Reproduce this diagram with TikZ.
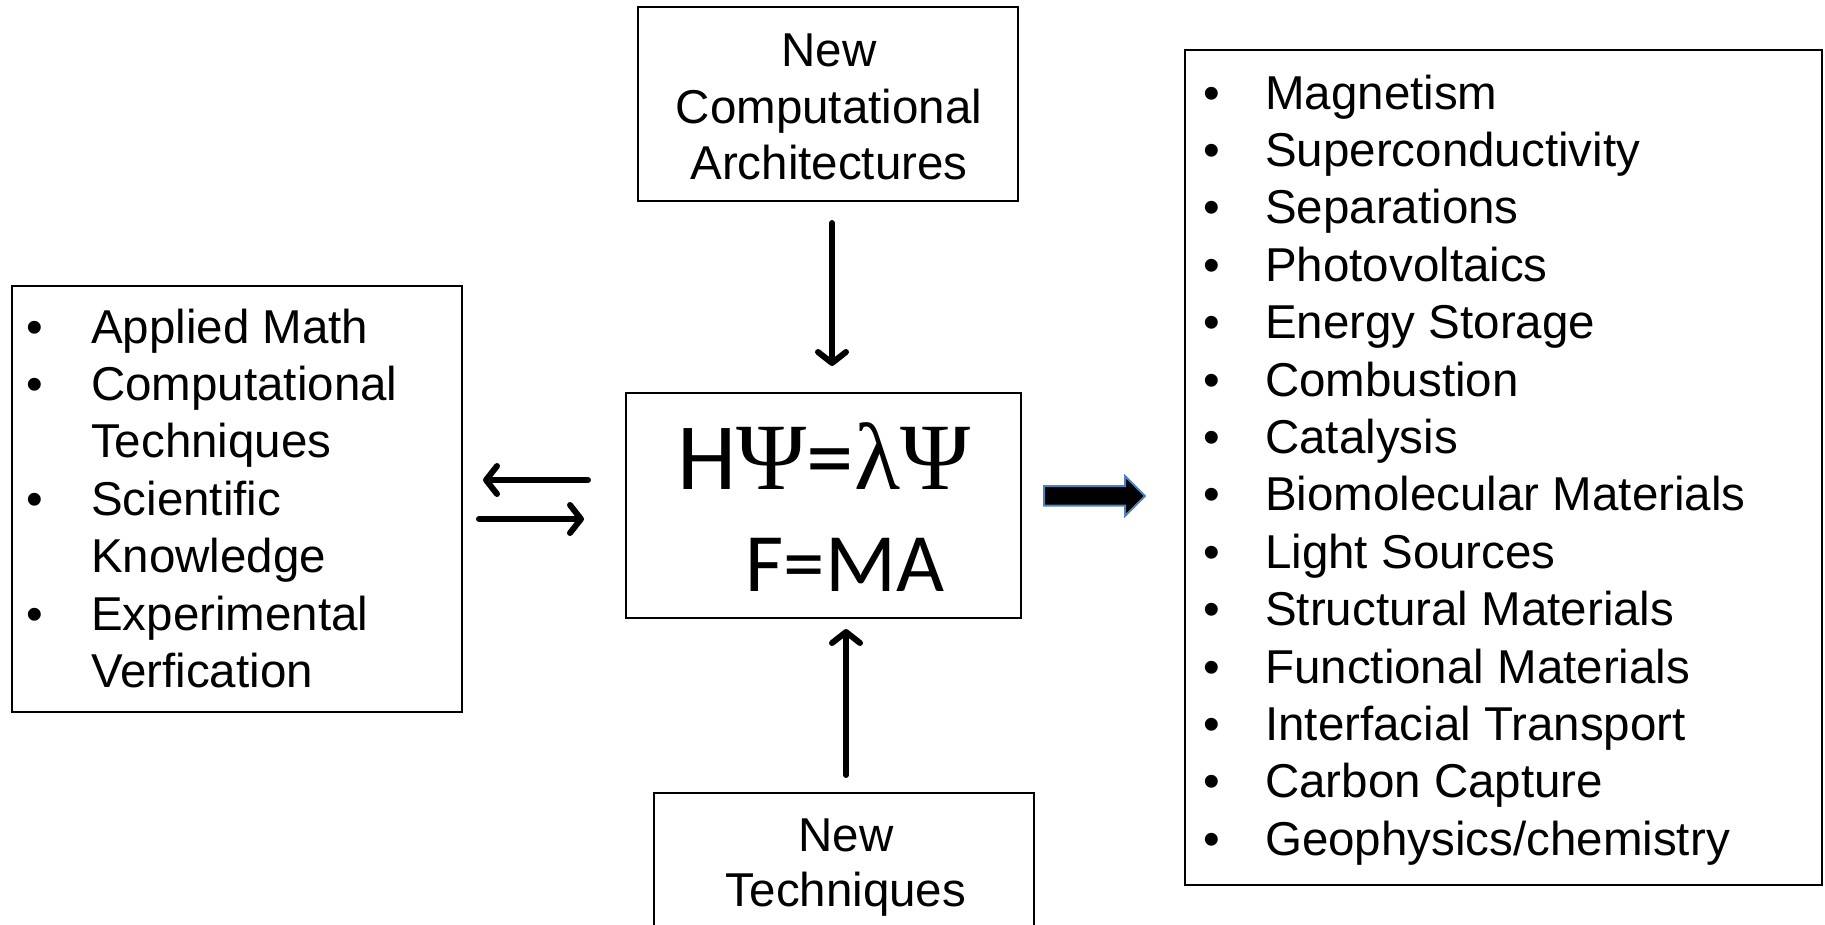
\documentclass[tikz,border=0pt]{standalone}
\usepackage{fontspec}
\setmainfont{Liberation Sans}
\newfontfamily\calib{Carlito}
\newfontfamily\serifg{Liberation Serif}
\usetikzlibrary{arrows.meta,calc}
\definecolor{arrowblue}{RGB}{79,129,189}
\begin{document}
\begin{tikzpicture}[x=1pt,y=-1pt,
  box/.style={draw,line width=2pt,inner sep=0pt},
  txt/.style={font=\fontsize{47.5}{57}\selectfont, inner sep=0pt},
  eq/.style={font=\fontsize{83}{90}\selectfont\calib, inner sep=0pt},
  eqbig/.style={font=\fontsize{95}{100}\selectfont\calib, inner sep=0pt},
  arr/.style={line width=6pt, line cap=round, -{Straight Barb[length=11pt,width=28pt,round]}},
  bigarr/.style={fill=black, draw=arrowblue, line width=2pt, line join=miter}
]
\useasboundingbox (0,0) rectangle (1825,924);

% boxes
\node[box, minimum width=380pt, minimum height=194pt] (top) at (828,104) {};
\node[box, minimum width=450pt, minimum height=426pt] (left) at (237,499) {};
\node[box, minimum width=395pt, minimum height=225pt] (center) at (823.5,505.5) {};
\node[box, minimum width=380pt, minimum height=167pt] (bottom) at (844,876.5) {};
\node[box, minimum width=637pt, minimum height=835pt] (right) at (1503.5,467.5) {};

% top box text
\node[txt, anchor=base] (t1) at (829,66) {New};
\node[txt, anchor=base] (t2) at (829,123) {Computational};
\node[txt, anchor=base] (t3) at (829,179) {Architectures};

% bottom box text
\node[txt, anchor=base] (b1) at (846,851) {New};
\node[txt, anchor=base] (b2) at (846,906) {Techniques};

% center equations
\node[eqbig, anchor=base] (eq1) at (824,489) {H{\serifg Ψ}={\serifg λΨ}};
\node[eq, anchor=base] (eq2) at (845,591) {F=MA};

% left list
\node[txt, anchor=base] (lb1) at (35,343) {•};
\node[txt, anchor=base west] (l1) at (91,343) {Applied Math};
\node[txt, anchor=base] (lb2) at (35,400.4) {•};
\node[txt, anchor=base west] (l2) at (91,400.4) {Computational};
\node[txt, anchor=base west] (l3) at (91,457.8) {Techniques};
\node[txt, anchor=base] (lb4) at (35,515.2) {•};
\node[txt, anchor=base west] (l4) at (91,515.2) {Scientific};
\node[txt, anchor=base west] (l5) at (91,572.6) {Knowledge};
\node[txt, anchor=base] (lb6) at (35,630) {•};
\node[txt, anchor=base west] (l6) at (91,630) {Experimental};
\node[txt, anchor=base west] (l7) at (91,687.4) {Verfication};

% right list
\foreach \t [count=\i from 0] in {Magnetism, Superconductivity, Separations, Photovoltaics, Energy Storage, Combustion, Catalysis, Biomolecular Materials, Light Sources, Structural Materials, Functional Materials, Interfacial Transport, Carbon Capture, Geophysics/chemistry} {
  \node[txt, anchor=base] (rb\i) at (1212,{109+57.4*\i}) {•};
  \node[txt, anchor=base west] (rt\i) at (1265,{109+57.4*\i}) {\t};
}

% connectors
\draw[arr, shorten <=21pt, shorten >=26pt] ([xshift=4pt]top.south) -- ([xshift=4pt]top.south |- center.north);
\draw[arr, shorten <=17pt, shorten >=10pt] ([xshift=2pt]bottom.north) -- ([xshift=2pt]bottom.north |- center.south);
\draw[arr, shorten <=37pt, shorten >=20pt] ([yshift=25.5pt]center.west) -- ([yshift=25.5pt]center.west -| left.east);
\draw[arr, shorten <=16pt, shorten >=41pt] ([yshift=-13.5pt]center.west -| left.east) -- ([yshift=-13.5pt]center.west);

% block arrow to the right box
\draw[bigarr] (1044,486) -- (1125,486) -- (1125,476) -- (1145,496) -- (1125,516) -- (1125,505.5) -- (1044,505.5) -- cycle;
\end{tikzpicture}
\end{document}
